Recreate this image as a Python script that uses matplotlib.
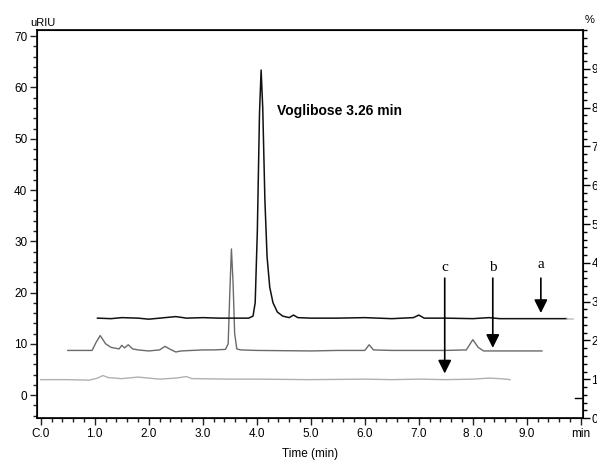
import matplotlib.pyplot as plt
from matplotlib.ticker import MultipleLocator

plt.rcParams['font.family'] = ['Liberation Sans', 'DejaVu Sans']

# trace a (black, top): retention time (min), signal (uRIU)
a_t = [1.05, 1.3, 1.5, 1.8, 2.0, 2.3, 2.5, 2.7, 3.0, 3.3, 3.6, 3.85, 3.93,
       3.97, 4.01, 4.05, 4.08, 4.11, 4.15, 4.19, 4.24, 4.3, 4.38, 4.48, 4.6,
       4.68, 4.76, 5.0, 5.5, 6.0, 6.5, 6.9, 7.0, 7.1, 7.5, 8.0, 8.3, 8.5,
       9.0, 9.74]
a_y = [15.0, 14.9, 15.1, 15.0, 14.8, 15.1, 15.3, 15.0, 15.1, 15.0, 15.0,
       15.0, 15.4, 18.0, 32.0, 55.0, 63.4, 56.0, 38.0, 27.0, 21.0, 18.0,
       16.2, 15.4, 15.1, 15.6, 15.1, 15.0, 15.0, 15.1, 14.9, 15.1, 15.6,
       15.0, 15.0, 14.9, 15.1, 14.9, 14.9, 14.9]
a_tail_t = [9.74, 9.85]
a_tail_y = [14.9, 14.9]

# trace b (grey, middle)
b_t = [0.5, 0.95, 1.02, 1.1, 1.2, 1.3, 1.45, 1.5, 1.55, 1.62, 1.7, 1.8,
       2.0, 2.2, 2.3, 2.4, 2.5, 2.6, 2.8, 3.0, 3.2, 3.42, 3.47, 3.5, 3.53,
       3.56, 3.59, 3.63, 3.7, 4.0, 5.0, 5.5, 6.0, 6.08, 6.16, 6.5, 7.0, 7.5,
       7.88, 8.0, 8.1, 8.2, 9.28]
b_y = [8.7, 8.7, 10.2, 11.6, 10.0, 9.3, 9.0, 9.7, 9.2, 9.8, 9.0, 8.8,
       8.6, 8.8, 9.5, 8.9, 8.4, 8.6, 8.7, 8.8, 8.8, 8.9, 10.0, 20.0, 28.5,
       22.0, 12.0, 9.0, 8.8, 8.7, 8.6, 8.7, 8.7, 9.8, 8.8, 8.7, 8.7, 8.7,
       8.8, 10.8, 9.3, 8.6, 8.6]

# trace c (light grey, bottom)
c_t = [0.0, 0.5, 0.9, 1.05, 1.15, 1.25, 1.5, 1.8, 2.0, 2.2, 2.5, 2.7, 2.8,
       3.5, 4.0, 5.0, 6.0, 6.5, 7.0, 7.5, 8.0, 8.3, 8.5, 8.69]
c_y = [3.0, 3.0, 2.9, 3.3, 3.8, 3.4, 3.2, 3.5, 3.3, 3.1, 3.3, 3.6, 3.2,
       3.1, 3.1, 3.0, 3.1, 3.0, 3.1, 3.0, 3.1, 3.3, 3.2, 3.0]

# arrows: label, x (min), top and tip (uRIU)
arrow_lbl = ['a', 'b', 'c']
arrow_x = [9.26, 8.37, 7.48]
arrow_top = [22.8, 22.8, 22.8]
arrow_tip = [16.0, 9.2, 4.2]
arrow_txt_y = [25.4, 24.8, 24.8]

x_ticks = [0, 1, 2, 3, 4, 5, 6, 7, 8, 9, 10]
x_labels = ['C.0', '1.0', '2.0', '3.0', '4.0', '5.0', '6.0', '7.0', '8 .0',
            '9.0', 'min']

fig = plt.figure(figsize=(5.97, 4.63), dpi=100)
ax = fig.add_axes([0.062, 0.097, 0.9145, 0.838])

ax.plot(c_t, c_y, color='#b0b0b0', lw=1.0)
ax.plot(b_t, b_y, color='#6a6a6a', lw=1.0)
ax.plot(a_t, a_y, color='#111111', lw=1.1)
ax.plot(a_tail_t, a_tail_y, color='#c0c0c0', lw=1.1)

for lbl, x, top, tip, ty in zip(arrow_lbl, arrow_x, arrow_top, arrow_tip,
                                arrow_txt_y):
    ax.annotate('', xy=(x, tip), xytext=(x, top),
                arrowprops=dict(arrowstyle='-|>', color='black', lw=1.2,
                                mutation_scale=20, shrinkA=0, shrinkB=0))
    ax.text(x, ty, lbl, family='Liberation Serif', fontsize=11,
            ha='center', va='center')

ax.text(4.37, 55.4, 'Voglibose 3.26 min', fontsize=10, fontweight='bold',
        va='center', ha='left')

ax.set_xlim(-0.07, 10.04)
ax.set_ylim(-4.5, 71.2)
ax.set_xticks(x_ticks)
ax.set_xticklabels(x_labels)
ax.xaxis.set_minor_locator(MultipleLocator(0.2))
ax.yaxis.set_major_locator(MultipleLocator(10))
ax.yaxis.set_minor_locator(MultipleLocator(2))
ax.tick_params(which='both', labelsize=8.5, width=1, color='#222222',
               pad=2)
ax.tick_params(which='major', length=5)
ax.tick_params(which='minor', length=3)
ax.set_xlabel('Time (min)', fontsize=8.5, labelpad=6)
for s in ax.spines.values():
    s.set_linewidth(1.2)

ax2 = ax.twinx()
ax2.set_ylim(0, 10)
ax2.set_yticks(range(0, 10))
ax2.yaxis.set_minor_locator(MultipleLocator(0.2))
ax2.tick_params(which='both', labelsize=8.5, width=1, pad=1)
ax2.tick_params(which='major', length=5)
ax2.tick_params(which='minor', length=3)
ax2.axhline(0.52, xmin=0.985, xmax=1.0, color='black', lw=1)

fig.text(30 / 597, 1 - 23 / 463, 'uRIU', fontsize=8, va='center')
fig.text(590 / 597, 1 - 20 / 463, '%', fontsize=8, va='center', ha='center')

fig.savefig('out.png', dpi=100)
